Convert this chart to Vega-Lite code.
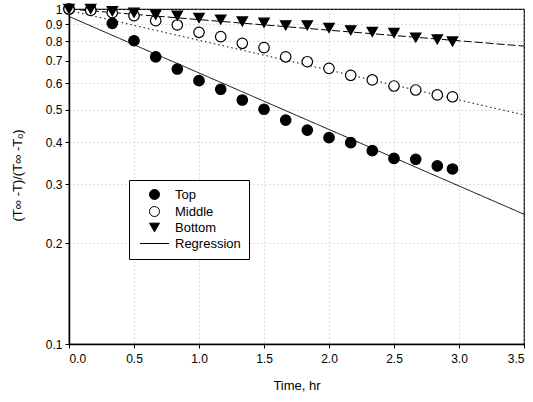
{
  "$schema": "https://vega.github.io/schema/vega-lite/v6.json",
  "width": 455,
  "height": 335,
  "autosize": {"type": "none"},
  "padding": {"left": 69, "top": 9, "right": 9, "bottom": 58},
  "background": "white",
  "config": {
    "font": "Liberation Sans",
    "view": {"stroke": "black", "strokeWidth": 1.2},
    "axis": {
      "domainColor": "black", "domainWidth": 1.5, "tickColor": "black", "tickSize": 4,
      "labelColor": "black", "labelFontSize": 12, "titleColor": "black", "titleFontSize": 13,
      "titleFontWeight": "normal", "gridColor": "#aaaaaa", "gridDash": [1, 3], "gridWidth": 0.8
    }
  },
  "datasets": {
    "pts": [
      {"t": 0, "v": 1.0, "s": "Top"}, {"t": 0.167, "v": 0.995, "s": "Top"}, {"t": 0.333, "v": 0.906, "s": "Top"},
      {"t": 0.5, "v": 0.804, "s": "Top"}, {"t": 0.667, "v": 0.72, "s": "Top"}, {"t": 0.833, "v": 0.662, "s": "Top"},
      {"t": 1.0, "v": 0.611, "s": "Top"}, {"t": 1.167, "v": 0.576, "s": "Top"}, {"t": 1.333, "v": 0.535, "s": "Top"},
      {"t": 1.5, "v": 0.502, "s": "Top"}, {"t": 1.667, "v": 0.466, "s": "Top"}, {"t": 1.833, "v": 0.435, "s": "Top"},
      {"t": 2.0, "v": 0.413, "s": "Top"}, {"t": 2.167, "v": 0.399, "s": "Top"}, {"t": 2.333, "v": 0.378, "s": "Top"},
      {"t": 2.5, "v": 0.358, "s": "Top"}, {"t": 2.667, "v": 0.356, "s": "Top"}, {"t": 2.833, "v": 0.34, "s": "Top"},
      {"t": 2.95, "v": 0.333, "s": "Top"},
      {"t": 0, "v": 1.0, "s": "Middle"}, {"t": 0.167, "v": 0.99, "s": "Middle"}, {"t": 0.333, "v": 0.975, "s": "Middle"},
      {"t": 0.5, "v": 0.955, "s": "Middle"}, {"t": 0.667, "v": 0.923, "s": "Middle"}, {"t": 0.833, "v": 0.896, "s": "Middle"},
      {"t": 1.0, "v": 0.852, "s": "Middle"}, {"t": 1.167, "v": 0.827, "s": "Middle"}, {"t": 1.333, "v": 0.79, "s": "Middle"},
      {"t": 1.5, "v": 0.767, "s": "Middle"}, {"t": 1.667, "v": 0.72, "s": "Middle"}, {"t": 1.833, "v": 0.696, "s": "Middle"},
      {"t": 2.0, "v": 0.665, "s": "Middle"}, {"t": 2.167, "v": 0.634, "s": "Middle"}, {"t": 2.333, "v": 0.614, "s": "Middle"},
      {"t": 2.5, "v": 0.589, "s": "Middle"}, {"t": 2.667, "v": 0.573, "s": "Middle"}, {"t": 2.833, "v": 0.554, "s": "Middle"},
      {"t": 2.95, "v": 0.547, "s": "Middle"},
      {"t": 0, "v": 1.0, "s": "Bottom"}, {"t": 0.167, "v": 1.0, "s": "Bottom"}, {"t": 0.333, "v": 0.985, "s": "Bottom"},
      {"t": 0.5, "v": 0.975, "s": "Bottom"}, {"t": 0.667, "v": 0.962, "s": "Bottom"}, {"t": 0.833, "v": 0.955, "s": "Bottom"},
      {"t": 1.0, "v": 0.94, "s": "Bottom"}, {"t": 1.167, "v": 0.93, "s": "Bottom"}, {"t": 1.333, "v": 0.918, "s": "Bottom"},
      {"t": 1.5, "v": 0.91, "s": "Bottom"}, {"t": 1.667, "v": 0.894, "s": "Bottom"}, {"t": 1.833, "v": 0.894, "s": "Bottom"},
      {"t": 2.0, "v": 0.878, "s": "Bottom"}, {"t": 2.167, "v": 0.864, "s": "Bottom"}, {"t": 2.333, "v": 0.854, "s": "Bottom"},
      {"t": 2.5, "v": 0.848, "s": "Bottom"}, {"t": 2.667, "v": 0.822, "s": "Bottom"}, {"t": 2.833, "v": 0.812, "s": "Bottom"},
      {"t": 2.95, "v": 0.8, "s": "Bottom"}
    ],
    "reg": [
      {"t": 0, "v": 0.95, "s": "Top"}, {"t": 3.5, "v": 0.244, "s": "Top"},
      {"t": 0, "v": 0.99, "s": "Middle"}, {"t": 3.5, "v": 0.483, "s": "Middle"},
      {"t": 0, "v": 1.0, "s": "Bottom"}, {"t": 3.5, "v": 0.775, "s": "Bottom"}
    ]
  },
  "layer": [
    {
      "data": {"name": "reg"},
      "mark": {"type": "line", "color": "black", "strokeWidth": 1, "clip": true},
      "encoding": {
        "x": {"field": "t", "type": "quantitative", "scale": {"domain": [0, 3.5], "nice": false, "zero": false},
          "axis": {"values": [0, 0.5, 1, 1.5, 2, 2.5, 3, 3.5], "format": ".1f", "title": "Time, hr", "grid": true,
            "labelPadding": 5, "titleBaseline": "alphabetic", "titleY": 45}},
        "y": {"field": "v", "type": "quantitative", "scale": {"type": "log", "domain": [0.1, 1], "nice": false},
          "axis": {"values": [0.1, 0.2, 0.3, 0.4, 0.5, 0.6, 0.7, 0.8, 0.9, 1], "format": "~g", "grid": true,
            "title": "(T∞ -T)/(T∞ -Tₒ)", "titleBaseline": "middle", "titleX": -52, "titleY": 166, "labelPadding": 3}},
        "detail": {"field": "s"},
        "strokeDash": {"field": "s", "type": "nominal", "legend": null,
          "scale": {"domain": ["Top", "Middle", "Bottom"], "range": [[1, 0], [1.5, 3], [8, 3]]}}
      }
    },
    {
      "data": {"name": "pts"},
      "mark": {"type": "point", "filled": true, "strokeWidth": 1.2, "opacity": 1, "size": 110},
      "encoding": {
        "x": {"field": "t", "type": "quantitative"},
        "y": {"field": "v", "type": "quantitative"},
        "shape": {"field": "s", "type": "nominal", "title": null,
          "scale": {"domain": ["Top", "Middle", "Bottom", "Regression"], "range": ["circle", "circle", "triangle-down", "M-2.9,0H2.9"]},
          "legend": {"orient": "none", "legendX": 60, "legendY": 171, "strokeColor": "black", "fillColor": "white",
            "padding": 8, "labelFontSize": 13, "labelColor": "black", "symbolStrokeWidth": 1,
            "symbolSize": 100, "rowPadding": 2, "labelOffset": 14, "symbolOffset": 11, "symbolOpacity": 1}},
        "fill": {"field": "s", "type": "nominal", "title": null,
          "scale": {"domain": ["Top", "Middle", "Bottom", "Regression"], "range": ["black", "white", "black", "black"]}},
        "stroke": {"field": "s", "type": "nominal", "title": null,
          "scale": {"domain": ["Top", "Middle", "Bottom", "Regression"], "range": ["black", "black", "black", "black"]}}
      }
    }
  ]
}
